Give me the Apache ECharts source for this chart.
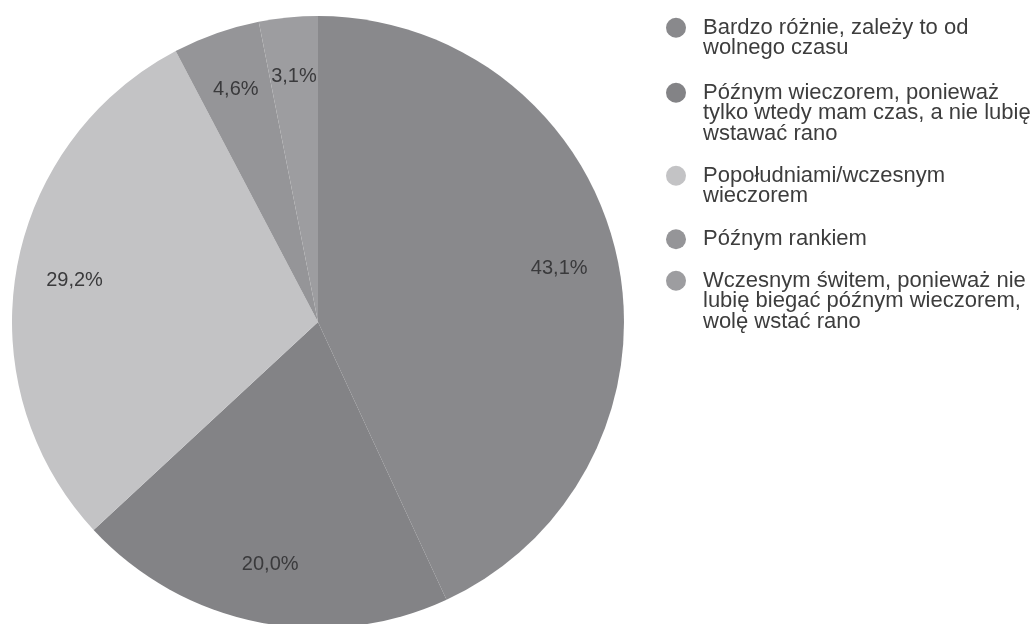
<!DOCTYPE html>
<html>
<head>
<meta charset="utf-8">
<script src="https://cdn.jsdelivr.net/npm/echarts@6/dist/echarts.min.js"></script>
<style>
  html, body { margin: 0; padding: 0; background: #ffffff; }
  #chart { width: 1034px; height: 624px; }
</style>
</head>
<body>
<div id="chart"></div>
<script>
// Pora biegania – odpowiedzi w procentach
const categories = [
  'Bardzo różnie, zależy to od\nwolnego czasu',
  'Późnym wieczorem, ponieważ\ntylko wtedy mam czas, a nie lubię\nwstawać rano',
  'Popołudniami/wczesnym\nwieczorem',
  'Późnym rankiem',
  'Wczesnym świtem, ponieważ nie\nlubię biegać późnym wieczorem,\nwolę wstać rano'
];
const percentValues = [43.1, 20.0, 29.2, 4.6, 3.1];
const sliceColors = ['#89898c', '#838386', '#c3c3c5', '#959598', '#9d9da0'];

const FONT = '"Liberation Sans", Arial, sans-serif';
const LINE_H = 20.5;
const legendLeft = 666;
const legendCenters = [27, 92, 175, 238.5, 280];

const pieData = categories.map((name, i) => ({
  name: name,
  value: percentValues[i],
  itemStyle: { color: sliceColors[i] }
}));

// One legend block per entry. Blank lines are prepended so that the
// marker, which is centred on the text block, sits beside the first line.
const legends = categories.map((name, i) => {
  const n = name.split('\n').length;
  const blockH = (2 * n - 1) * LINE_H;
  return {
    orient: 'vertical',
    left: legendLeft,
    top: legendCenters[i] - blockH / 2,
    padding: 0,
    selectedMode: false,
    icon: 'circle',
    itemWidth: 44,
    itemHeight: 20,
    itemStyle: { borderWidth: 0 },
    data: [name],
    formatter: label => '\n'.repeat(n - 1) + label,
    textStyle: {
      fontFamily: FONT,
      fontSize: 22,
      lineHeight: LINE_H,
      color: '#3d3d3d'
    }
  };
});

const chart = echarts.init(document.getElementById('chart'), null, { renderer: 'canvas' });
chart.setOption({
  animation: false,
  backgroundColor: '#ffffff',
  legend: legends,
  series: [
    {
      type: 'pie',
      center: [318, 322],
      radius: [0, 306],
      startAngle: 90,
      clockwise: true,
      silent: true,
      label: { show: false },
      labelLine: { show: false },
      itemStyle: { borderWidth: 0 },
      data: pieData
    },
    {
      // transparent ring that carries the percentage labels
      type: 'pie',
      center: [318, 322],
      radius: [182, 306],
      startAngle: 90,
      clockwise: true,
      silent: true,
      legendHoverLink: false,
      itemStyle: { color: 'rgba(0,0,0,0)', borderWidth: 0 },
      label: {
        show: true,
        position: 'inside',
        fontFamily: FONT,
        fontSize: 20,
        color: '#3a3a3c',
        padding: [6, 0, 0, 0],
        formatter: p => p.value.toFixed(1).replace('.', ',') + '%'
      },
      labelLine: { show: false },
      data: categories.map((name, i) => ({ name: name, value: percentValues[i] }))
    }
  ]
});
</script>
</body>
</html>
